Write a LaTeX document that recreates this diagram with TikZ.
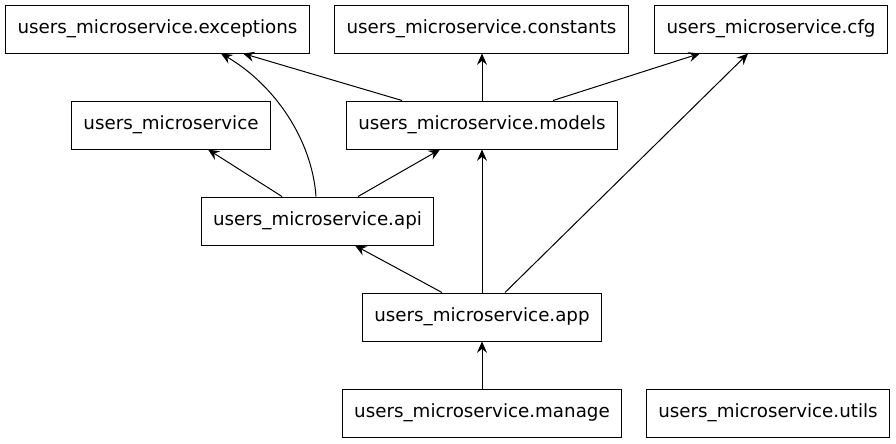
\documentclass[tikz,border=0pt]{standalone}
\usepackage{fontspec}
\setmainfont{DejaVu Sans}
\usetikzlibrary{calc,arrows.meta}

\begin{document}
\begin{tikzpicture}[x=0.75pt,y=-0.75pt,
		modbox/.style={draw,line width=0.75pt,minimum height=36pt,inner xsep=9pt,font=\fontsize{13.7}{16}\selectfont},
		dep/.style={-{Stealth[length=8.5pt,width=7.5pt,inset=3pt]},line width=0.75pt}]
		\useasboundingbox (0,0) rectangle (896,443); %画布大小
		\node[modbox] (exc) at (157.5,29) {users\_microservice.exceptions}; %第一层
		\node[modbox] (con) at (481.5,29) {users\_microservice.constants};
		\node[modbox] (cfg) at (771,29) {users\_microservice.cfg};
		\node[modbox] (base) at (171,125) {users\_microservice}; %第二层
		\node[modbox] (models) at (482,125) {users\_microservice.models};
		\node[modbox] (api) at (317.5,221) {users\_microservice.api}; %第三层
		\node[modbox] (app) at (482,317) {users\_microservice.app}; %第四层
		\node[modbox] (manage) at (482,413) {users\_microservice.manage}; %第五层
		\node[modbox] (utils) at (768,413) {users\_microservice.utils};
		\draw [dep] ($(models.north)+(-80,0)$)--($(exc.south)+(85.5,0)$); %依赖箭头
		\draw [dep] (models.north)--(models.north|-con.south);
		\draw [dep] ($(models.north)+(71,0)$)--($(cfg.south)+(-71,0)$);
		\draw [dep] ($(api.north)+(-1.5,0)$) .. controls (312,140) and (275,85) .. ($(exc.south)+(63.5,0)$); %弯曲箭头
		\draw [dep] ($(api.north)+(-35.5,0)$)--($(base.south)+(37,0)$);
		\draw [dep] ($(api.north)+(40.5,0)$)--($(models.south)+(-42,0)$);
		\draw [dep] ($(app.north)+(-40,0)$)--($(api.south)+(37.5,0)$);
		\draw [dep] (app.north)--(models.south);
		\draw [dep] ($(app.north)+(23,0)$)--($(cfg.south)+(-23,0)$);
		\draw [dep] (manage.north)--(app.south);
	\end{tikzpicture}
\end{document}
